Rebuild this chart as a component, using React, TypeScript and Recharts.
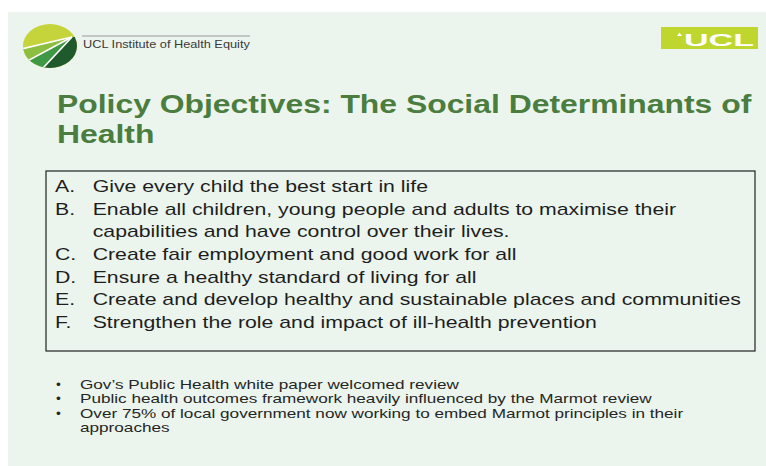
import React from 'react';
import { ComposedChart, XAxis, YAxis, Scatter, Customized } from 'recharts';

const titleLines = ['Policy Objectives: The Social Determinants of', 'Health'];
const objectiveLetters = ['A.', 'B.', '', 'C.', 'D.', 'E.', 'F.'];
const objectiveTexts = [
  'Give every child the best start in life',
  'Enable all children, young people and adults to maximise their',
  'capabilities and have control over their lives.',
  'Create fair employment and good work for all',
  'Ensure a healthy standard of living for all',
  'Create and develop healthy and sustainable places and communities',
  'Strengthen the role and impact of ill-health prevention',
];
const noteBullets = ['•', '•', '•', ''];
const noteTexts = [
  'Gov\u2019s Public Health white paper welcomed review',
  'Public health outcomes framework heavily influenced by the Marmot review',
  'Over 75% of local government now working to embed Marmot principles in their',
  'approaches',
];
const orgName = 'UCL Institute of Health Equity';
const brandName = 'UCL';

const objectiveRows = objectiveTexts.map((text, i) => ({ col: 0, row: i, letter: objectiveLetters[i], text }));
const noteRows = noteTexts.map((text, i) => ({ col: 0, row: i, bullet: noteBullets[i], text }));

const FONT = '"Liberation Sans", Arial, Helvetica, sans-serif';
const SX = 1.25;

const Stretched = ({ x, y, size, fill, weight, sx, children }: any) => (
  <text
    transform={`translate(${x},${y}) scale(${sx || SX},1)`}
    x={0}
    y={0}
    fontFamily={FONT}
    fontSize={size}
    fontWeight={weight || 'normal'}
    fill={fill}
  >
    {children}
  </text>
);

const ObjectiveLine = (props: any) => {
  const { cx, cy, payload } = props;
  if (cx == null || cy == null) return <g />;
  return (
    <g>
      {payload.letter ? (
        <Stretched x={cx + 55} y={cy} size={17} fill="#1e1e1e">{payload.letter}</Stretched>
      ) : null}
      <Stretched x={cx + 92.7} y={cy} size={17} fill="#1e1e1e">{payload.text}</Stretched>
    </g>
  );
};

const NoteLine = (props: any) => {
  const { cx, cy, payload } = props;
  if (cx == null || cy == null) return <g />;
  return (
    <g>
      {payload.bullet ? (
        <Stretched x={cx + 56} y={cy} size={12.5} sx={1.1} fill="#262626">{payload.bullet}</Stretched>
      ) : null}
      <Stretched x={cx + 80} y={cy} size={12.8} sx={1.34} fill="#262626">{payload.text}</Stretched>
    </g>
  );
};

const Decor = () => {
  const P = [72, 37];
  return (
    <g>
      <defs>
        <clipPath id="logoClip">
          <ellipse cx={50} cy={46} rx={27} ry={22} />
        </clipPath>
      </defs>
      <g clipPath="url(#logoClip)">
        <rect x={15} y={20} width={70} height={55} fill="#c6d43b" />
        <polygon points={`${P[0]},${P[1]} 10,51.8 10,70.3`} fill="#8cbf3f" />
        <polygon points={`${P[0]},${P[1]} 10,70.3 10,80 31.8,80`} fill="#3f9843" />
        <polygon points={`${P[0]},${P[1]} 31.8,80 95,80 95,37`} fill="#1f5a2c" />
        <line x1={P[0]} y1={P[1]} x2={10} y2={51.8} stroke="#ffffff" strokeWidth={1.6} />
        <line x1={P[0]} y1={P[1]} x2={10} y2={70.3} stroke="#ffffff" strokeWidth={1.6} />
        <line x1={P[0]} y1={P[1]} x2={31.8} y2={80} stroke="#ffffff" strokeWidth={1.6} />
      </g>
      <line x1={82} y1={36} x2={250} y2={36} stroke="#9a9a9a" strokeWidth={1} />
      <text
        transform={`translate(83,47.5) scale(1.16,1)`}
        fontFamily={FONT}
        fontSize={11}
        fill="#3a3a3a"
      >
        {orgName}
      </text>

      <rect x={661} y={27} width={97} height={22} fill="#bfd62f" />
      <polygon points="677,36 679.5,32.5 682,36" fill="#ffffff" />
      <text
        x={684}
        y={46}
        fontFamily={FONT}
        fontSize={17}
        fontWeight="bold"
        fill="#ffffff"
        textLength={70}
        lengthAdjust="spacingAndGlyphs"
      >
        {brandName}
      </text>

      {titleLines.map((t, i) => (
        <Stretched key={i} x={57} y={113 + i * 30} size={25.5} weight="bold" fill="#4b7d3f">
          {t}
        </Stretched>
      ))}

      <rect x={46} y={171} width={709} height={180} fill="none" stroke="#222222" strokeWidth={1.2} />
    </g>
  );
};

export default function App() {
  return (
    <div style={{ position: 'absolute', left: 0, top: 0, width: 766, height: 466, background: '#ffffff', overflow: 'hidden' }}>
      <div style={{ position: 'absolute', left: 8, top: 12, width: 758, height: 454, background: '#ebf5ed' }} />
      <div style={{ position: 'absolute', left: 0, top: 0 }}>
        <ComposedChart width={766} height={466} margin={{ top: 0, right: 0, bottom: 0, left: 0 }}>
          <XAxis xAxisId="page" type="number" dataKey="col" domain={[0, 1]} hide />
          <YAxis yAxisId="obj" type="number" dataKey="row" domain={[-8.458, 12.071]} reversed hide />
          <YAxis yAxisId="notes" type="number" dataKey="row" domain={[-27.203, 5.385]} reversed hide />
          <Customized component={<Decor />} />
          <Scatter
            data={objectiveRows}
            xAxisId="page"
            yAxisId="obj"
            shape={ObjectiveLine}
            isAnimationActive={false}
          />
          <Scatter
            data={noteRows}
            xAxisId="page"
            yAxisId="notes"
            shape={NoteLine}
            isAnimationActive={false}
          />
        </ComposedChart>
      </div>
    </div>
  );
}
